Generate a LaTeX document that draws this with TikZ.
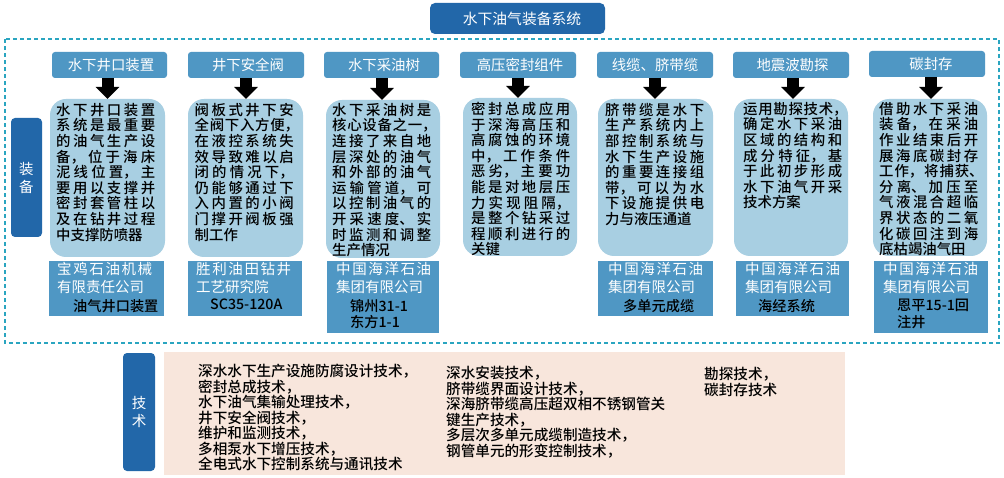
\documentclass[tikz,border=0pt]{standalone}
\usepackage{fontspec}
\setmainfont{Noto Sans CJK SC}
\newfontfamily\cjkmed{Noto Sans CJK SC Medium}
\usetikzlibrary{arrows.meta}
\definecolor{titleblue}{HTML}{2267A9}
\definecolor{hdrblue}{HTML}{4F97C4}
\definecolor{bubble}{HTML}{A8CFE2}
\definecolor{dashc}{HTML}{2AA5C0}
\definecolor{tan}{HTML}{F8E6DC}
\XeTeXlinebreaklocale "zh"
\XeTeXlinebreakskip=0pt plus 4pt
\tolerance=10000 \hbadness=10000 \hfuzz=20pt
\tikzset{
 rectbox/.style={inner sep=0pt,outer sep=0pt,text=white,font=\fontsize{14.4}{16}\selectfont},
 hdrbox/.style={rectbox,fill=hdrblue,rounded corners=3pt},
 bubblebox/.style={rectbox,fill=bubble,rounded corners=16pt},
 orgbox/.style={rectbox,fill=hdrblue},
 sidebox/.style={rectbox,fill=titleblue,rounded corners=4pt,align=center,font=\fontsize{14.5}{18}\selectfont},
 bodytext/.style={anchor=north west,inner sep=0pt,text width=99pt,align=justify,text=black,font=\cjkmed\fontsize{14.4}{15.6}\selectfont},
 orgtext/.style={anchor=north west,inner sep=0pt,text width=95pt,align=justify,text=white,font=\fontsize{14.5}{18}\selectfont},
 prodtext/.style={anchor=north west,inner sep=0pt,align=left,text=black,font=\cjkmed\fontsize{14.2}{16.5}\selectfont},
 techtext/.style={anchor=north west,inner sep=0pt,align=left,text=black,font=\cjkmed\fontsize{14.6}{15.5}\selectfont},
 blockarrow/.style={line width=12pt,black,-{Triangle[width=23pt,length=12pt]},shorten >=0pt},
}
\newcommand{\rbox}[7]{\node[#2,minimum width={#5-#3},minimum height={#6-#4}] (#1) at ({(#3+#5)/2},{(#4+#6)/2}) {#7};}
\newcommand{\pc}[1]{\makebox[9pt][l]{#1}}
\begin{document}
\begin{tikzpicture}[x=1pt,y=-1pt]
\useasboundingbox (0,0) rectangle (1004,478);
\fill[white] (0,0) rectangle (1004,478);
\rbox{title}{hdrbox,fill=titleblue,rounded corners=5pt,font=\fontsize{14.8}{16}\selectfont}{430}{3}{605}{34}{\hspace*{9pt}水下油气装备系统}
\draw[dashc,line width=2pt,dash pattern=on 4pt off 3pt] (4.5,39.5) rectangle (998.5,343);
\rbox{zb}{sidebox}{11}{118}{42}{237}{装\\备}
\rbox{js}{sidebox}{123}{353}{155}{471}{技\\术}
\rbox{tb}{rectbox,fill=tan}{164}{352}{845}{475}{}
% headers
\rbox{h1}{hdrbox}{52}{52}{167}{78}{\hspace*{3pt}水下井口装置}
\rbox{h2}{hdrbox}{188}{52}{304}{78}{\hspace*{4pt}井下安全阀}
\rbox{h3}{hdrbox}{324}{52}{439}{78}{\hspace*{5pt}水下采油树}
\rbox{h4}{hdrbox}{460}{52}{576}{78}{\hspace*{4pt}高压密封组件}
\rbox{h5}{hdrbox}{597}{52}{713}{78}{线缆、脐带缆}
\rbox{h6}{hdrbox}{733}{52}{849}{78}{\hspace*{3pt}地震波勘探}
\rbox{h7}{hdrbox}{869}{51}{985}{77}{\hspace*{8pt}碳封存}
% bubbles
\rbox{b1}{bubblebox}{50}{99}{165}{257}{}
\rbox{b2}{bubblebox}{188}{99}{303}{257}{}
\rbox{b3}{bubblebox}{326}{100}{440}{258}{}
\rbox{b4}{bubblebox}{463}{98}{577}{256}{}
\rbox{b5}{bubblebox}{598}{99}{713}{256}{}
\rbox{b6}{bubblebox}{734}{99}{848}{256}{}
\rbox{b7}{bubblebox}{873}{99}{987}{256}{}
% organisation boxes
\rbox{o1}{orgbox}{49}{261}{164}{316}{}
\rbox{o2}{orgbox}{188}{261}{302}{316}{}
\rbox{o3}{orgbox}{327}{261}{439}{333}{}
\rbox{o5}{orgbox}{598}{261}{713}{316}{}
\rbox{o6}{orgbox}{736}{261}{849}{316}{}
\rbox{o7}{orgbox}{874}{261}{988}{333}{}
% arrows
\coordinate (a1) at (107.5,78);
\coordinate (a2) at (246,78);
\coordinate (a3) at (382,78);
\coordinate (a4) at (518,78);
\coordinate (a5) at (655,78);
\coordinate (a6) at (793,78);
\coordinate (a7) at (931,77);
\foreach \i in {1,...,7}{\draw[blockarrow] (a\i) -- (a\i |- b\i.north);}
% body text
\node[bodytext] (t1) at (56,103) {水下井口装置\linebreak 系统是最重要\linebreak 的油气生产设\linebreak 备，位于海床\linebreak 泥线位置，主\linebreak 要用以支撑并\linebreak 密封套管柱以\linebreak 及在钻井过程\linebreak 中支撑防喷器};
\node[bodytext] (t2) at (194.5,103) {阀板式井下安\linebreak 全阀下入方便\pc{，}\linebreak 在液控系统失\linebreak 效导致难以启\linebreak 闭的情况下，\linebreak 仍能够通过下\linebreak 入内置的小阀\linebreak 门撑开阀板强\linebreak 制工作};
\node[bodytext] (t3) at (332,103) {水下采油树是\linebreak 核心设备之一\pc{，}\linebreak 连接了来自地\linebreak 层深处的油气\linebreak 和外部的油气\linebreak 运输管道，可\linebreak 以控制油气的\linebreak 开采速度、实\linebreak 时监测和调整\linebreak 生产情况};
\node[bodytext] (t4) at (471,102) {密封总成应用\linebreak 于深海高压和\linebreak 高腐蚀的环境\linebreak 中，工作条件\linebreak 恶劣，主要功\linebreak 能是对地层压\linebreak 力实现阻隔，\linebreak 是整个钻采过\linebreak 程顺利进行的\linebreak 关键};
\node[bodytext] (t5) at (605,103) {脐带缆是水下\linebreak 生产系统内上\linebreak 部控制系统与\linebreak 水下生产设施\linebreak 的重要连接组\linebreak 带，可以为水\linebreak 下设施提供电\linebreak 力与液压通道};
\node[bodytext] (t6) at (743,102) {运用勘探技术\pc{，}\linebreak 确定水下采油\linebreak 区域的结构和\linebreak 成分特征，基\linebreak 于此初步形成\linebreak 水下油气开采\linebreak 技术方案};
\node[bodytext] (t7) at (879,102) {借助水下采油\linebreak 装备，在采油\linebreak 作业结束后开\linebreak 展海底碳封存\linebreak 工作，将捕获\pc{、}\linebreak 分离、加压至\linebreak 气液混合超临\linebreak 界状态的二氧\linebreak 化碳回注到海\linebreak 底枯竭油气田};
% organisation text
\node[orgtext] (c1) at (57,262) {宝鸡石油机械\linebreak 有限责任公司};
\node[orgtext] (c2) at (196,262) {胜利油田钻井\linebreak 工艺研究院};
\node[orgtext] (c3) at (336,262) {中国海洋石油\linebreak 集团有限公司};
\node[orgtext] (c5) at (608,262) {中国海洋石油\linebreak 集团有限公司};
\node[orgtext] (c6) at (745,262) {中国海洋石油\linebreak 集团有限公司};
\node[orgtext] (c7) at (883,262) {中国海洋石油\linebreak 集团有限公司};
\node[prodtext] (p1) at (73,299) {油气井口装置};
\node[prodtext] (p2) at (210,299) {SC35-120A};
\node[prodtext] (p3) at (350,299) {锦州31-1\\东方1-1};
\node[prodtext] (p5) at (623,299) {多单元成缆};
\node[prodtext] (p6) at (758,299) {海经系统};
\node[prodtext] (p7) at (897,299) {恩平15-1回\\注井};
% technology text
\node[techtext] (k1) at (198,364) {深水水下生产设施防腐设计技术，\\密封总成技术，\\水下油气集输处理技术，\\井下安全阀技术，\\维护和监测技术，\\多相泵水下增压技术，\\全电式水下控制系统与通讯技术};
\node[techtext] (k2) at (446,366) {深水安装技术，\\脐带缆界面设计技术，\\深海脐带缆高压超双相不锈钢管关\\键生产技术，\\多层次多单元成缆制造技术，\\钢管单元的形变控制技术，};
\node[techtext] (k3) at (704,367) {勘探技术，\\碳封存技术};
\end{tikzpicture}
\end{document}
